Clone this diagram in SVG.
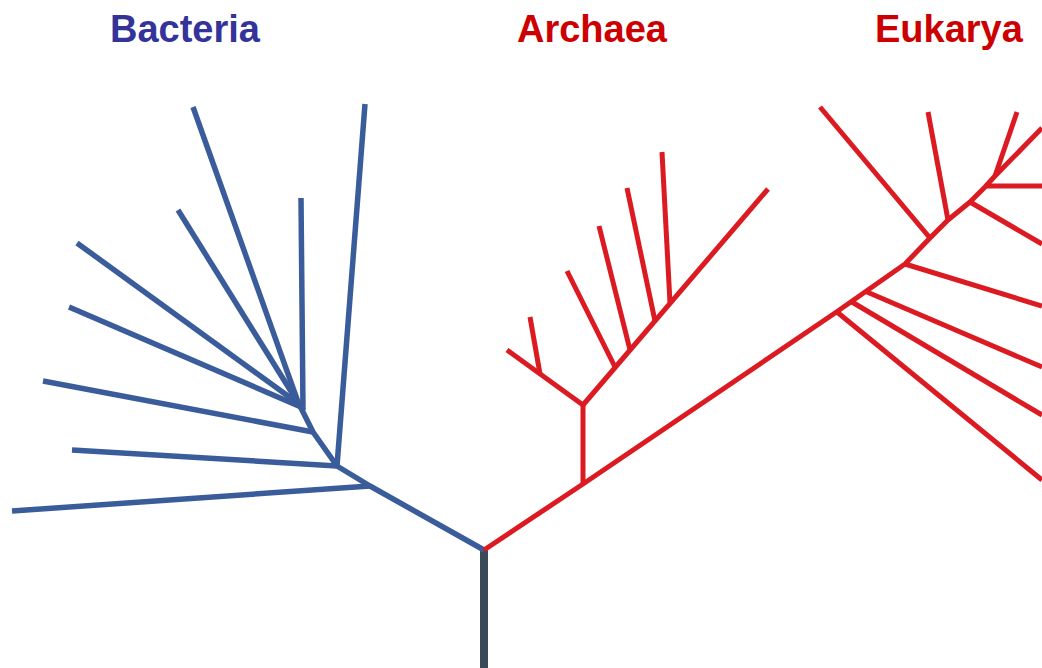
<svg xmlns="http://www.w3.org/2000/svg" width="1042" height="668" viewBox="0 0 1042 668">
<style>
.lbl{font-family:"Liberation Sans",Arial,sans-serif;font-weight:bold;font-size:38px}
.b{fill:none;stroke:#3A5C9B;stroke-width:5.5;stroke-linecap:butt;stroke-linejoin:round}
.r{fill:none;stroke:#DC1A22;stroke-width:5;stroke-linecap:butt;stroke-linejoin:round}
.stem{fill:none;stroke:#3B4A57;stroke-width:8}
</style>
<rect width="1042" height="668" fill="#fff"/>
<g id="label-bacteria"><text class="lbl" x="110" y="42" fill="#333399">Bacteria</text></g>
<g id="label-archaea"><text class="lbl" x="517" y="42" fill="#CC0000">Archaea</text></g>
<g id="label-eukarya"><text class="lbl" x="875" y="42" fill="#CC0000">Eukarya</text></g>
<g id="connectors">
  <g id="root"><line class="stem" x1="484" y1="668" x2="484" y2="549"/></g>
  <g id="bacteria-tree">
    <polyline class="b" points="484,550 370,486 337,466 313,432 298,402"/>
    <line class="b" x1="370" y1="486" x2="12" y2="511"/>
    <line class="b" x1="337" y1="466" x2="72" y2="450"/>
    <line class="b" x1="337" y1="466" x2="365" y2="104"/>
    <line class="b" x1="313" y1="432" x2="43" y2="381"/>
    <line class="b" x1="303" y1="410" x2="301" y2="198"/>
    <line class="b" x1="301" y1="407" x2="69" y2="307"/>
    <line class="b" x1="299" y1="404" x2="77" y2="243"/>
    <line class="b" x1="297" y1="401" x2="178" y2="210"/>
    <line class="b" x1="298" y1="402" x2="193" y2="107"/>
  </g>
  <g id="archaea-tree">
    <polyline class="r" points="484,550 583,484 835,313 905,264 930,238 948,220 970,202 985,187 995,176 1042,128"/>
    <line class="r" x1="583" y1="484" x2="583" y2="405"/>
    <line class="r" x1="583" y1="405" x2="507" y2="350"/>
    <line class="r" x1="540" y1="374" x2="530" y2="317"/>
    <line class="r" x1="583" y1="405" x2="768" y2="189"/>
    <line class="r" x1="615" y1="367" x2="567" y2="271"/>
    <line class="r" x1="630" y1="350" x2="599" y2="226"/>
    <line class="r" x1="655" y1="321" x2="627" y2="188"/>
    <line class="r" x1="670" y1="303" x2="662" y2="152"/>
  </g>
  <g id="eukarya-tree">
    <line class="r" x1="837" y1="312" x2="1042" y2="480"/>
    <line class="r" x1="852" y1="302" x2="1042" y2="415"/>
    <line class="r" x1="867" y1="292" x2="1042" y2="367"/>
    <line class="r" x1="905" y1="264" x2="1042" y2="306"/>
    <line class="r" x1="930" y1="238" x2="820" y2="107"/>
    <line class="r" x1="948" y1="220" x2="928" y2="112"/>
    <line class="r" x1="970" y1="202" x2="1042" y2="244"/>
    <line class="r" x1="985" y1="186" x2="1042" y2="186"/>
    <line class="r" x1="995" y1="176" x2="1017" y2="112"/>
  </g>
</g>
</svg>
